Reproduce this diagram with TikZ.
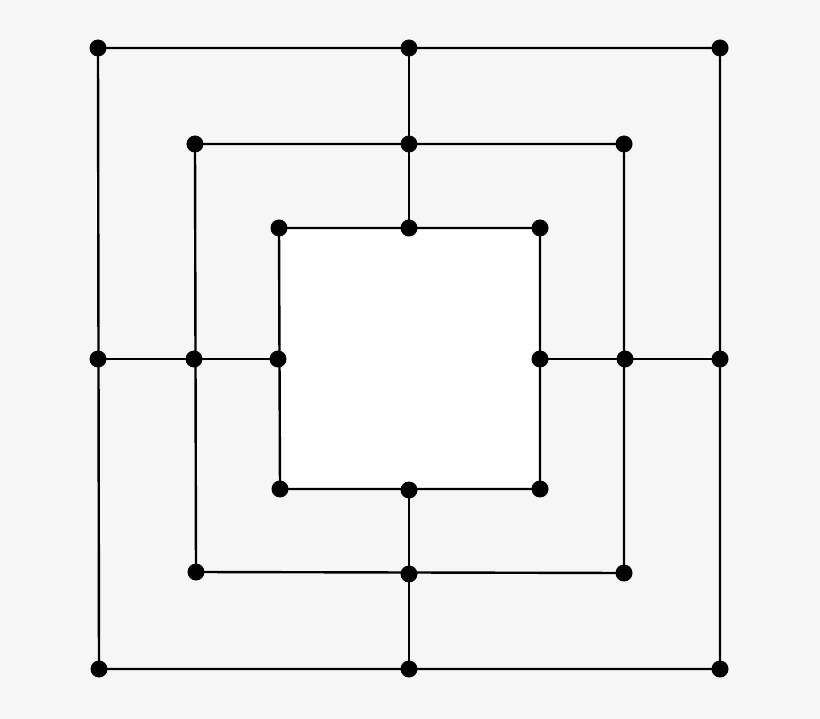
\documentclass[tikz,border=0pt]{standalone}
\definecolor{bg}{RGB}{246,246,246}
\begin{document}
\begin{tikzpicture}[x=1pt,y=-1pt,
  dot/.style={circle,fill=black,inner sep=0pt,minimum size=17pt},
  board/.style={line width=2.4pt,black,line join=miter}]
\fill[bg] (0,0) rectangle (820,719);
\useasboundingbox (0,0) rectangle (820,719);
% outer
\coordinate (o1) at (98,48);
\coordinate (o2) at (409,48);
\coordinate (o3) at (720,48);
\coordinate (o4) at (720,359);
\coordinate (o5) at (720,669);
\coordinate (o6) at (409,669);
\coordinate (o7) at (99,669);
\coordinate (o8) at (98,359);
% middle
\coordinate (m1) at (195,144);
\coordinate (m2) at (409,144);
\coordinate (m3) at (624,144);
\coordinate (m4) at (625,359);
\coordinate (m5) at (624,573);
\coordinate (m6) at (409,574);
\coordinate (m7) at (196,572);
\coordinate (m8) at (194,359);
% inner
\coordinate (i1) at (279,228);
\coordinate (i2) at (409,228);
\coordinate (i3) at (540,228);
\coordinate (i4) at (540,359);
\coordinate (i5) at (540,489);
\coordinate (i6) at (409,490);
\coordinate (i7) at (280,489);
\coordinate (i8) at (278,359);
\fill[white] (279,228) rectangle (540,489);
\draw[board] (o1) -- (o3) -- (o5) -- (o7) -- cycle;
\draw[board] (m1) -- (m3) -- (m5) -- (m7) -- cycle;
\draw[board] (i1) -- (i3) -- (i5) -- (i7) -- cycle;
\draw[board] (o2) -- (i2);
\draw[board] (o4) -- (i4);
\draw[board] (o6) -- (i6);
\draw[board] (o8) -- (i8);
\foreach \p in {o1,o2,o3,o4,o5,o6,o7,o8,m1,m2,m3,m4,m5,m6,m7,m8,i1,i2,i3,i4,i5,i6,i7,i8}
  \node[dot] (d\p) at (\p) {};
\end{tikzpicture}
\end{document}
